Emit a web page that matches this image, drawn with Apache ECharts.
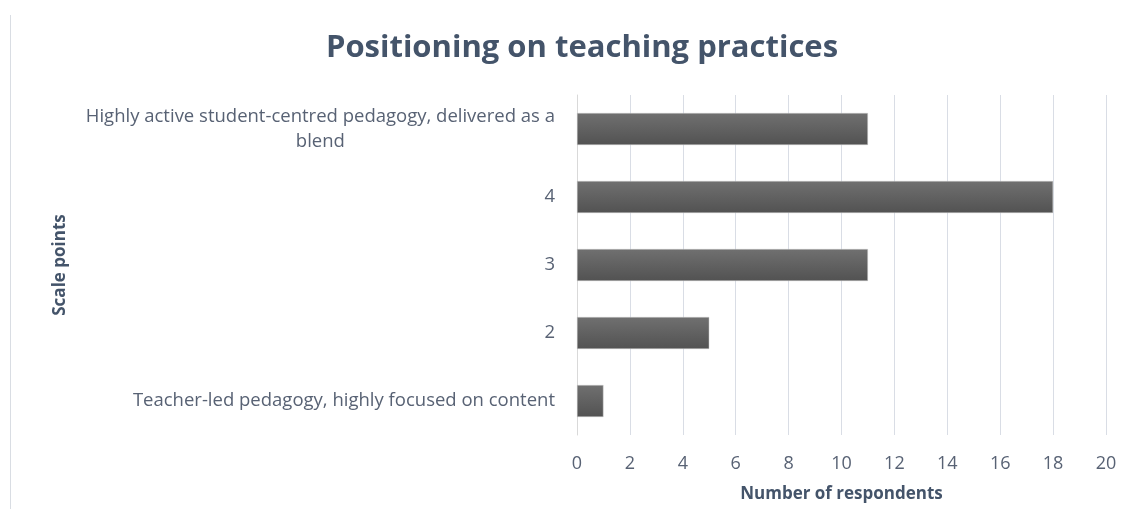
<!DOCTYPE html>
<html>
<head>
<meta charset="utf-8">
<script src="https://cdn.jsdelivr.net/npm/echarts@6/dist/echarts.min.js"></script>
<style>
  html, body { margin: 0; padding: 0; background: #fff; }
  #frame { position: absolute; left: 10px; top: 15px; width: 1px; height: 494px; background: #d9dde3; }
  #myChart { width: 1129px; height: 509px; }
</style>
</head>
<body>
<div id="frame"></div>
<div id="myChart"></div>
<script>
    // scale points, top to bottom
    var categories = [
        'Highly active student-centred pedagogy, delivered as a blend',
        '4',
        '3',
        '2',
        'Teacher-led pedagogy, highly focused on content'
    ];
    var respondents = [11, 18, 11, 5, 1];
    var xTicks = [0, 2, 4, 6, 8, 10, 12, 14, 16, 18, 20];

    var textColor = '#586274';
    var titleColor = '#44546A';
    var font = 'Open Sans';
    var labelSize = 18.5;

    // word wrap a label to a max pixel width
    var ctx = document.createElement('canvas').getContext('2d');
    ctx.font = labelSize + 'px "Open Sans"';
    function wrap(text, maxWidth) {
        var words = text.split(' ');
        var lines = [];
        var line = '';
        words.forEach(function (w) {
            var test = line ? line + ' ' + w : w;
            if (line && ctx.measureText(test).width > maxWidth) {
                lines.push(line);
                line = w;
            } else {
                line = test;
            }
        });
        lines.push(line);
        return lines.map(function (l) { return '{c|' + l + '}'; }).join('\n');
    }

    var myChart = echarts.init(document.getElementById('myChart'));
    myChart.setOption({
        animation: false,
        title: {
            text: 'Positioning on teaching practices',
            left: 577,
            textAlign: 'center',
            top: 28,
            textStyle: {fontFamily: font, fontSize: 31, fontWeight: 'bold', color: titleColor}
        },
        grid: {left: 577, right: 23, top: 95, bottom: 74},
        xAxis: {
            type: 'value',
            min: xTicks[0],
            max: xTicks[xTicks.length - 1],
            interval: 2,
            name: 'Number of respondents',
            nameLocation: 'middle',
            nameGap: 51,
            nameTextStyle: {fontFamily: font, fontSize: 17, fontWeight: 'bold', color: titleColor},
            axisLine: {show: false},
            axisTick: {show: false},
            axisLabel: {margin: 20, fontFamily: font, fontSize: 18, color: textColor},
            splitLine: {lineStyle: {color: '#d9dde5', width: 1}}
        },
        yAxis: {
            type: 'category',
            inverse: true,
            data: categories,
            name: 'Scale points',
            nameLocation: 'middle',
            nameGap: 508,
            nameRotate: 90,
            nameTextStyle: {fontFamily: font, fontSize: 17, fontWeight: 'bold', color: titleColor},
            axisLine: {lineStyle: {color: '#d9d9d9'}},
            axisTick: {show: false},
            axisLabel: {
                margin: 22,
                color: textColor,
                formatter: function (v) { return wrap(v, 500); },
                rich: {c: {align: 'center', fontFamily: font, fontSize: labelSize, lineHeight: 25, color: textColor}}
            }
        },
        series: [{
            type: 'bar',
            data: respondents,
            barCategoryGap: '53%',
            itemStyle: {
                color: new echarts.graphic.LinearGradient(0, 0, 0, 1, [
                    {offset: 0, color: '#707070'},
                    {offset: 1, color: '#525252'}
                ]),
                borderColor: '#c8c8c8',
                borderWidth: 0.5
            }
        }]
    });
</script>
</body>
</html>
